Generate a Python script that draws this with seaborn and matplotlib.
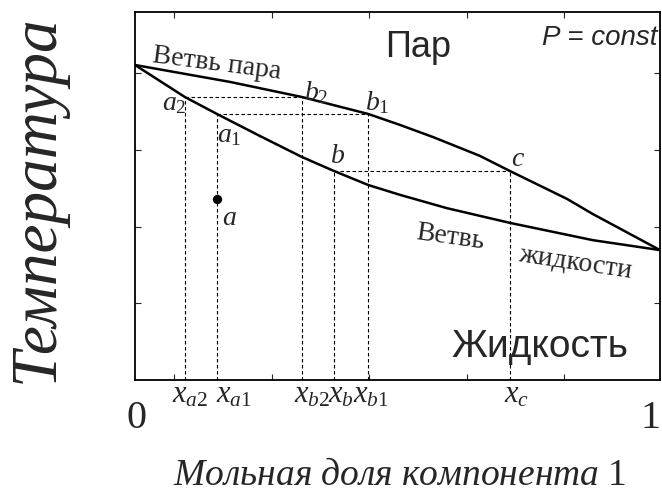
import matplotlib
matplotlib.use("Agg")
import matplotlib.pyplot as plt
import seaborn as sns
import pandas as pd

# Vapour (dew-point) branch: mole fraction of component 1 and temperature
x_vapor = [0.0, 0.181, 0.318, 0.444, 0.505, 0.568, 0.657, 0.714, 0.823, 0.872, 1.0]
t_vapor = [0.856, 0.810, 0.769, 0.723, 0.693, 0.660, 0.609, 0.568, 0.492, 0.451, 0.353]

# Liquid (bubble-point) branch
x_liquid = [0.0, 0.095, 0.156, 0.238, 0.318, 0.379, 0.444, 0.505, 0.594, 0.714, 0.872, 1.0]
t_liquid = [0.856, 0.769, 0.723, 0.663, 0.606, 0.568, 0.530, 0.503, 0.467, 0.427, 0.380, 0.353]

# Tie lines: (liquid composition, vapour composition, temperature)
tie_liquid = [0.095, 0.156, 0.379]
tie_vapor = [0.318, 0.444, 0.714]
tie_temp = [0.769, 0.723, 0.568]
tie_liquid_names = ["a_2", "a_1", "b"]
tie_vapor_names = ["b_2", "b_1", "c"]

# Initial state of the mixture
point_a_x = [0.156]
point_a_t = [0.492]

# Compositions marked on the horizontal axis
comp_values = [0.095, 0.156, 0.318, 0.379, 0.444, 0.714]
comp_labels = [r"$x_{a2}$", r"$x_{a1}$", r"$x_{b2}$", r"$x_{b}$", r"$x_{b1}$", r"$x_{c}$"]

x_minor = [0.074, 0.261, 0.446, 0.632, 0.817]
y_minor = [0.209, 0.416, 0.625, 0.834]

sns.set_theme(style="ticks")
plt.rcParams.update({
    "font.family": ["Liberation Serif", "DejaVu Serif"],
    "mathtext.fontset": "custom",
    "mathtext.rm": "Liberation Serif",
    "mathtext.it": "Liberation Serif:italic",
    "mathtext.bf": "Liberation Serif:bold",
    "axes.edgecolor": "black",
    "axes.linewidth": 1.3,
})

W, H = 662, 494
fig = plt.figure(figsize=(W / 100, H / 100), dpi=100)
ax = fig.add_axes([135 / W, (H - 380) / H, 525 / W, 368 / H])
ax.set_xlim(0, 1)
ax.set_ylim(0, 1)

vap = pd.DataFrame({"x": x_vapor, "T": t_vapor})
liq = pd.DataFrame({"x": x_liquid, "T": t_liquid})
sns.lineplot(data=vap, x="x", y="T", color="black", lw=1.8, ax=ax, sort=False)
sns.lineplot(data=liq, x="x", y="T", color="black", lw=1.8, ax=ax, sort=False)

dash = (0, (3.2, 2.2))
for xl, xv, t in zip(tie_liquid, tie_vapor, tie_temp):
    ax.plot([xl, xv], [t, t], color="black", lw=0.8, ls=dash)
    ax.plot([xl, xl], [0, t], color="black", lw=0.8, ls=dash)
    ax.plot([xv, xv], [0, t], color="black", lw=0.8, ls=dash)

sns.scatterplot(x=point_a_x, y=point_a_t, color="black", s=45, ax=ax,
                edgecolor="black", linewidth=0, zorder=5)

ax.set_xticks(x_minor)
ax.set_yticks(y_minor)
ax.tick_params(direction="in", top=True, right=True, length=4, width=0.8,
               labelbottom=False, labelleft=False)
ax.set_xlabel("")
ax.set_ylabel("")

pt = 0.72  # pixels -> points


def mark(text, x, y, dx, dy, size=20):
    ax.annotate(text, xy=(x, y), xytext=(dx * pt, -dy * pt),
                textcoords="offset points", ha="center", va="baseline",
                fontsize=size)


# Labels of the tie-line ends
liq_offsets = [(-11, 13), (12, 28), (4, -8)]
vap_offsets = [(14, 3), (9, -4), (8, -5)]
for name, xl, t, (dx, dy) in zip(tie_liquid_names, tie_liquid, tie_temp, liq_offsets):
    mark(f"${name}$", xl, t, dx, dy)
for name, xv, t, (dx, dy) in zip(tie_vapor_names, tie_vapor, tie_temp, vap_offsets):
    mark(f"${name}$", xv, t, dx, dy)
mark("$a$", point_a_x[0], point_a_t[0], 13, 26)

# Composition labels under the axis
label_shift = [-13, -1, -8, -6, -15, -6]
xt = ax.get_xaxis_transform()
for v, lab, dx in zip(comp_values, comp_labels, label_shift):
    ax.annotate(lab, xy=(v, 0), xycoords=xt, xytext=(dx * pt, -22 * pt),
                textcoords="offset points", ha="left", va="baseline", fontsize=22)
ax.annotate("0", xy=(0, 0), xycoords=xt, xytext=(2 * pt, -48 * pt),
            textcoords="offset points", ha="center", va="baseline", fontsize=29)
ax.annotate("1", xy=(1, 0), xycoords=xt, xytext=(-9 * pt, -48 * pt),
            textcoords="offset points", ha="center", va="baseline", fontsize=29)


def fx(px):
    return px / W


def fy(py):
    return 1 - py / H


# Branch names
fig.text(fx(217), fy(64), "Ветвь пара", fontsize=20, rotation=-7.4,
         ha="center", va="center", rotation_mode="anchor")
fig.text(fx(450), fy(237), "Ветвь", fontsize=20, rotation=-8,
         ha="center", va="center", rotation_mode="anchor")
fig.text(fx(575), fy(263), "жидкости", fontsize=20, rotation=-8.5,
         ha="center", va="center", rotation_mode="anchor")

# Phase regions
sans = ["Liberation Sans", "DejaVu Sans"]
fig.text(fx(418), fy(57), "Пар", family=sans, fontsize=26, ha="center", va="baseline")
fig.text(fx(540), fy(357), "Жидкость", family=sans, fontsize=28, ha="center", va="baseline")
fig.text(fx(657), fy(45), "P = const", family=sans, style="italic", fontsize=20,
         ha="right", va="baseline")

# Axis titles
fig.text(fx(37), fy(199), "Температура", fontsize=47, style="italic", rotation=90,
         ha="center", va="center")
fig.text(fx(400), fy(485), r"$Мольная\ доля\ компонента\ 1$", fontsize=27,
         ha="center", va="baseline")

fig.savefig("out.png", dpi=100)
